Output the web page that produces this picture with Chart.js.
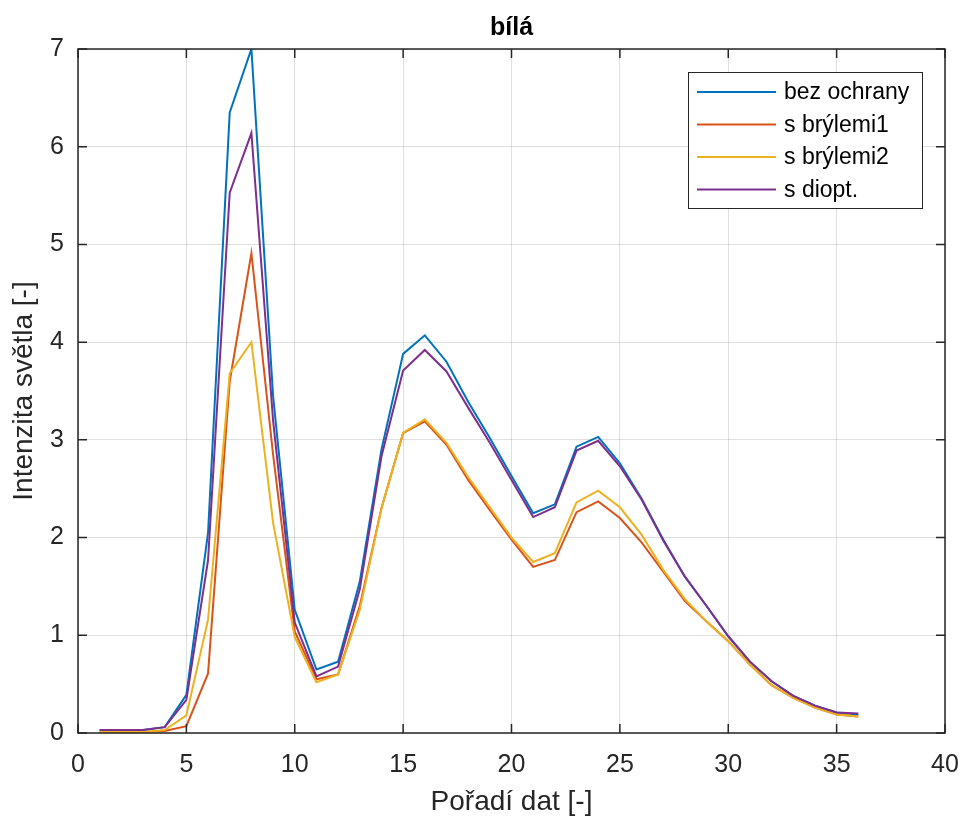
<!DOCTYPE html>
<html>
<head>
<meta charset="utf-8">
<script src="https://cdn.jsdelivr.net/npm/chart.js@4.4.1/dist/chart.umd.min.js"></script>
<style>
  html, body { margin: 0; padding: 0; background: #fff; }
  #wrap { width: 963px; height: 821px; }
</style>
</head>
<body>
<div id="wrap"><canvas id="chart" width="963" height="821"></canvas></div>
<script>
// pořadí dat (x)
const poradi = [1, 2, 3, 4, 5, 6, 7, 8, 9, 10, 11, 12, 13, 14, 15, 16, 17, 18,
  19, 20, 21, 22, 23, 24, 25, 26, 27, 28, 29, 30, 31, 32, 33, 34, 35, 36];

const bezOchrany = [0.03, 0.03, 0.03, 0.06, 0.39, 2.05, 6.35, 7.0, 3.45, 1.26, 0.65, 0.73,
  1.55, 2.90, 3.88, 4.07, 3.80, 3.39, 3.02, 2.63, 2.25, 2.34, 2.93, 3.03,
  2.76, 2.40, 1.98, 1.60, 1.30, 0.99, 0.73, 0.53, 0.38, 0.28, 0.21, 0.19];
const sBrylemi1 = [0.01, 0.01, 0.01, 0.02, 0.07, 0.61, 3.60, 4.91, 2.85, 1.04, 0.55, 0.60,
  1.30, 2.30, 3.07, 3.19, 2.95, 2.59, 2.28, 1.98, 1.70, 1.77, 2.26, 2.37,
  2.20, 1.95, 1.65, 1.35, 1.14, 0.94, 0.70, 0.49, 0.36, 0.26, 0.19, 0.17];
const sBrylemi2 = [0.01, 0.01, 0.01, 0.03, 0.18, 1.16, 3.68, 4.00, 2.15, 0.98, 0.52, 0.60,
  1.26, 2.30, 3.07, 3.21, 2.97, 2.62, 2.31, 2.00, 1.75, 1.84, 2.36, 2.48,
  2.31, 2.03, 1.67, 1.37, 1.14, 0.94, 0.70, 0.49, 0.36, 0.26, 0.19, 0.17];
const sDiopt = [0.03, 0.03, 0.03, 0.06, 0.34, 1.77, 5.53, 6.14, 3.20, 1.13, 0.58, 0.68,
  1.47, 2.83, 3.71, 3.92, 3.70, 3.33, 2.97, 2.59, 2.21, 2.31, 2.89, 2.99,
  2.73, 2.39, 1.97, 1.60, 1.30, 0.99, 0.73, 0.53, 0.38, 0.28, 0.21, 0.20];

const labels = ['bez ochrany', 's brýlemi1', 's brýlemi2', 's diopt.'];
const colors = ['#0072BD', '#D95319', '#EDB120', '#7E2F8E'];
const xTicks = [0, 5, 10, 15, 20, 25, 30, 35, 40];
const yTicks = [0, 1, 2, 3, 4, 5, 6, 7];

const FONT = 'Liberation Sans, Arial, Helvetica, sans-serif';
const AXIS = '#262626';

const toPoints = (ys) => poradi.map((x, i) => ({ x: x, y: ys[i] }));
const series = [bezOchrany, sBrylemi1, sBrylemi2, sDiopt];

// ramecek, ticky dovnitr a legenda jako v MATLABu
const matlabBox = {
  id: 'matlabBox',
  afterDatasetsDraw(chart) {
    const { ctx, chartArea: a, scales } = chart;
    ctx.save();
    ctx.strokeStyle = AXIS;
    ctx.lineWidth = 1.5;
    ctx.strokeRect(a.left, a.top, a.right - a.left, a.bottom - a.top);
    ctx.beginPath();
    xTicks.forEach(v => {
      const px = scales.x.getPixelForValue(v);
      ctx.moveTo(px, a.bottom); ctx.lineTo(px, a.bottom - 9);
      ctx.moveTo(px, a.top); ctx.lineTo(px, a.top + 9);
    });
    yTicks.forEach(v => {
      const py = scales.y.getPixelForValue(v);
      ctx.moveTo(a.left, py); ctx.lineTo(a.left + 9, py);
      ctx.moveTo(a.right, py); ctx.lineTo(a.right - 9, py);
    });
    ctx.stroke();

    // legenda
    const bx = 688, by = 72, bw = 234, bh = 136;
    ctx.fillStyle = '#fff';
    ctx.fillRect(bx, by, bw, bh);
    ctx.lineWidth = 1;
    ctx.strokeRect(bx + 0.5, by + 0.5, bw, bh);
    ctx.font = '23px ' + FONT;
    ctx.textBaseline = 'middle';
    chart.data.datasets.forEach((ds, i) => {
      const yy = 92 + i * 32.5;
      ctx.strokeStyle = ds.borderColor;
      ctx.lineWidth = 2;
      ctx.beginPath();
      ctx.moveTo(697, yy); ctx.lineTo(776, yy);
      ctx.stroke();
      ctx.fillStyle = '#000';
      ctx.fillText(ds.label, 784, yy + 1);
    });
    ctx.restore();
  }
};

new Chart(document.getElementById('chart'), {
  type: 'line',
  data: {
    datasets: series.map((ys, i) => ({
      label: labels[i],
      data: toPoints(ys),
      borderColor: colors[i],
      backgroundColor: colors[i],
      borderWidth: 2,
      pointRadius: 0,
      tension: 0,
      order: 3 - i
    }))
  },
  options: {
    responsive: false,
    animation: false,
    layout: { padding: { left: 0, right: 18, top: 0, bottom: 0 } },
    plugins: {
      legend: { display: false },
      tooltip: { enabled: false },
      title: {
        display: true,
        fullSize: false,
        text: 'bílá',
        color: '#000',
        font: { family: FONT, size: 25, weight: 'bold' },
        padding: { top: 13, bottom: 6 }
      }
    },
    scales: {
      x: {
        type: 'linear',
        min: 0, max: 40,
        afterBuildTicks: (s) => { s.ticks = xTicks.map(v => ({ value: v })); },
        afterFit: (s) => { s.height = 88; s.paddingRight = 0; s.paddingLeft = 0; },
        grid: { color: 'rgba(38,38,38,0.15)', lineWidth: 1, drawTicks: false },
        border: { display: false },
        ticks: { color: AXIS, font: { family: FONT, size: 25 }, padding: 17, maxRotation: 0 },
        title: {
          display: true,
          text: 'Pořadí dat [-]',
          color: AXIS,
          font: { family: FONT, size: 28 },
          padding: { top: 0, bottom: 2 }
        }
      },
      y: {
        min: 0, max: 7,
        afterBuildTicks: (s) => { s.ticks = yTicks.map(v => ({ value: v })); },
        afterFit: (s) => { s.width = 78; },
        grid: { color: 'rgba(38,38,38,0.15)', lineWidth: 1, drawTicks: false },
        border: { display: false },
        ticks: { color: AXIS, font: { family: FONT, size: 25 }, padding: 14 },
        title: {
          display: true,
          text: 'Intenzita světla [-]',
          color: AXIS,
          font: { family: FONT, size: 28 },
          padding: { top: 7, bottom: 0 }
        }
      }
    }
  },
  plugins: [matlabBox]
});
</script>
</body>
</html>
